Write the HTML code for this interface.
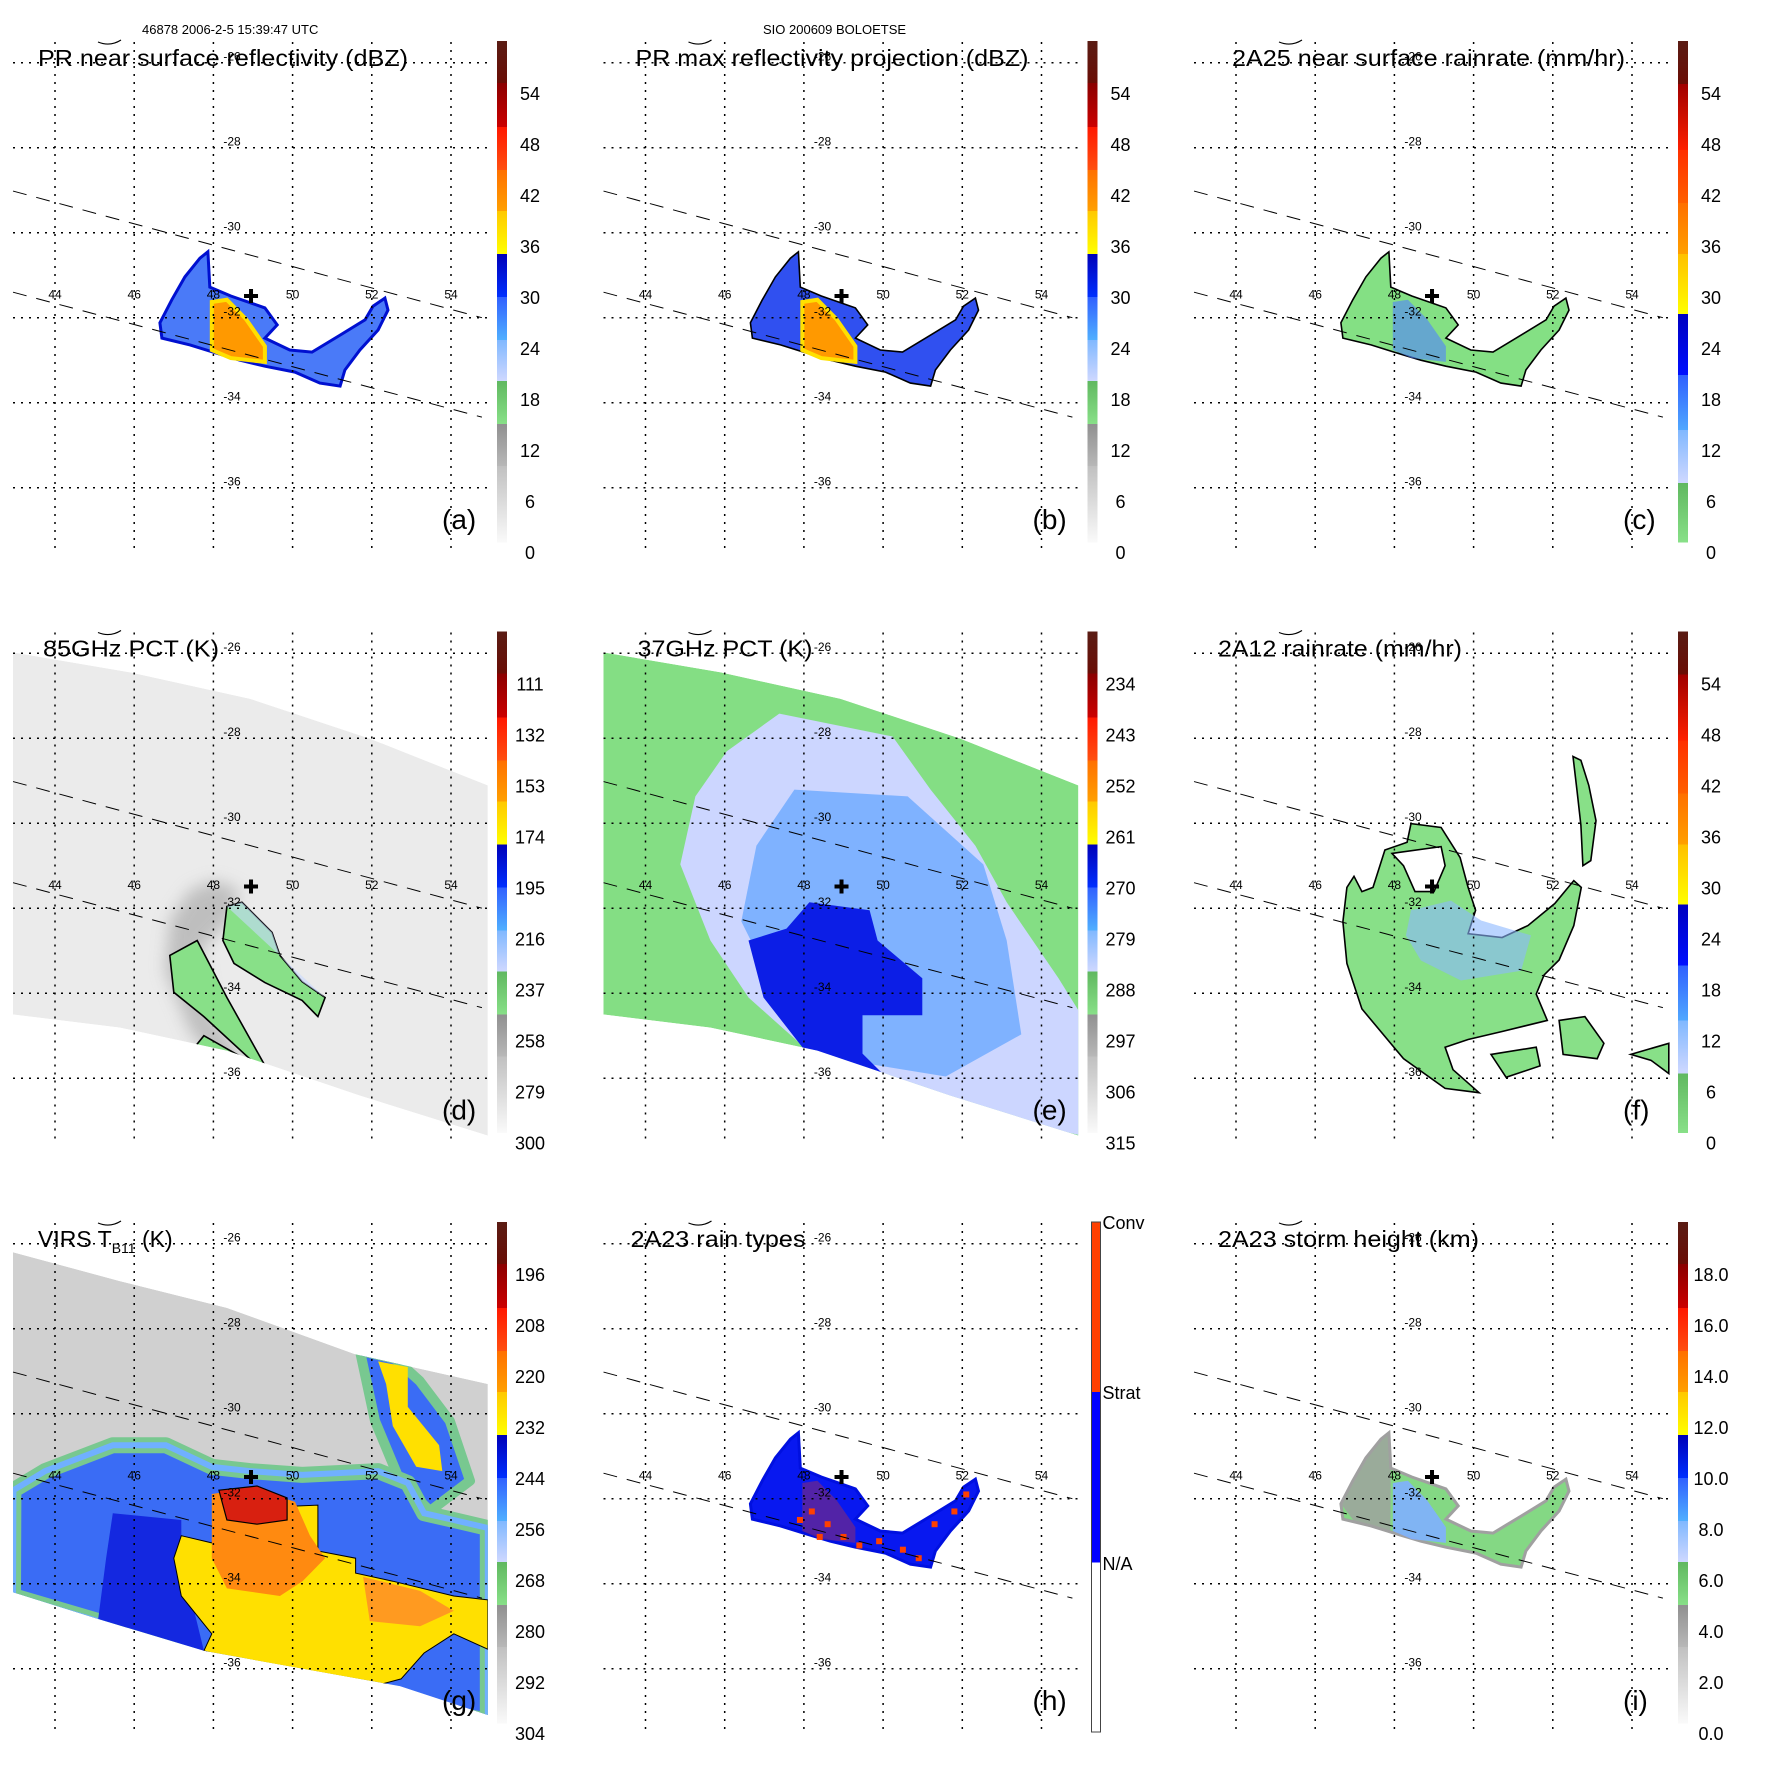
<!DOCTYPE html>
<html><head><meta charset="utf-8"><style>
html,body{margin:0;padding:0;background:#fff;}
svg{display:block;font-family:"Liberation Sans",sans-serif;}
</style></head><body>
<svg id="fig" width="1771" height="1771" viewBox="0 0 1771 1771" xmlns="http://www.w3.org/2000/svg">
<defs><filter id="blur6" x="-20%" y="-20%" width="140%" height="140%"><feGaussianBlur stdDeviation="8"/></filter></defs>
<text x="142" y="34" font-size="13">46878 2006-2-5 15:39:47 UTC</text>
<text x="763" y="34" font-size="13">SIO 200609 BOLOETSE</text>
</svg>
<script>
// ---- axis data ----
const lonTicks=[44,46,48,50,52,54];
const latTicks=[-26,-28,-30,-32,-34,-36];
const lonLabels=["44","46","48","50","52","54"];
const latLabels=["-26","-28","-30","-32","-34","-36"];
const cbA=["54","48","42","36","30","24","18","12","6","0"];
const cbD=["111","132","153","174","195","216","237","258","279","300"];
const cbE=["234","243","252","261","270","279","288","297","306","315"];
const cbG=["196","208","220","232","244","256","268","280","292","304"];
const cbI=["18.0","16.0","14.0","12.0","10.0","8.0","6.0","4.0","2.0","0.0"];
const cbH=["Conv","Strat","N/A"];
// ---- geographic series (lon,lat) ----
const centerPos=[48.95,-31.49];
const swathUpper=[[42.94,-29.02],[54.78,-32.0]];
const swathLower=[[42.94,-31.4],[54.78,-34.34]];
const tmiSwath=[[42.94,-25.98],[45.89,-26.45],[48.92,-27.07],[51.95,-28.01],[54.93,-29.11],[54.93,-37.35],[51.70,-36.41],[48.34,-35.35],[45.64,-34.81],[42.94,-34.50]];
const virsSwath=[[42.94,-26.20],[45.64,-26.88],[48.34,-27.51],[51.58,-28.60],[54.93,-29.30],[54.93,-37.09],[52.71,-36.41],[47.76,-35.58],[45.09,-34.83],[42.94,-34.20]];
const prRain=[[46.65,-32.12],[46.95,-31.58],[47.28,-31.04],[47.66,-30.60],[47.86,-30.45],[47.91,-31.28],[48.44,-31.49],[49.30,-31.77],[49.61,-32.17],[49.30,-32.48],[49.93,-32.76],[50.49,-32.81],[51.20,-32.41],[51.83,-32.05],[52.03,-31.73],[52.33,-31.54],[52.41,-31.82],[52.16,-32.29],[51.70,-32.76],[51.32,-33.23],[51.20,-33.61],[50.69,-33.54],[50.06,-33.28],[49.30,-33.14],[48.67,-33.00],[47.99,-32.81],[47.41,-32.64],[46.70,-32.48]];
const prCore=[[47.96,-31.63],[48.34,-31.58],[48.82,-32.03],[49.30,-32.67],[49.30,-33.04],[48.44,-32.95],[47.96,-32.76]];
const convDots=[[48.2,-32.3],[48.6,-32.6],[49.0,-32.9],[48.4,-32.9],[49.9,-33.0],[50.5,-33.2],[51.3,-32.6],[51.8,-32.3],[52.1,-31.9],[50.9,-33.4],[49.4,-33.1],[47.9,-32.5]];
const e37Lavender=[[47.38,-27.42],[50.24,-27.96],[51.20,-29.21],[52.33,-30.53],[53.12,-31.86],[54.43,-33.65],[55.01,-34.52],[55.01,-37.35],[50.24,-36.31],[48.67,-35.82],[46.60,-34.10],[45.64,-32.76],[44.88,-30.97],[45.26,-29.37],[46.05,-28.31]];
const e37Mid=[[47.76,-29.21],[50.62,-29.37],[52.53,-30.97],[53.12,-32.76],[53.49,-34.97],[51.58,-35.96],[49.28,-35.61],[47.38,-34.10],[46.42,-32.31],[46.80,-30.53]];
const e37Dark=[[48.14,-31.86],[49.66,-32.05],[49.86,-32.76],[50.99,-33.65],[50.99,-34.52],[49.48,-34.52],[49.48,-35.42],[50.44,-36.31],[49.66,-36.31],[48.32,-35.70],[46.98,-34.10],[46.60,-32.76],[47.56,-32.48]];
const d85Ring=[[47.41,-31.58],[48.04,-31.35],[48.67,-31.58],[48.42,-32.29],[47.66,-33.00],[47.91,-34.41],[48.92,-35.82],[48.42,-36.05],[47.41,-34.88],[46.78,-33.47],[46.90,-32.29]];
const d85Main=[[48.34,-31.96],[48.72,-31.86],[49.48,-32.57],[49.68,-33.11],[50.24,-33.73],[50.82,-34.10],[50.64,-34.55],[50.24,-34.17],[49.30,-33.75],[48.52,-33.30],[48.24,-32.76]];
const d85Strip1=[[46.90,-33.11],[47.59,-32.76],[48.34,-34.10],[49.30,-35.70],[49.10,-35.70],[47.76,-34.55],[47.00,-33.98]];
const d85Strip2=[[47.76,-35.00],[50.24,-36.31],[49.86,-36.41],[47.38,-35.44]];
const f12Main=[[46.80,-31.51],[46.98,-31.25],[47.18,-31.61],[47.46,-31.51],[47.76,-30.63],[48.32,-30.45],[48.42,-30.01],[49.18,-30.10],[49.66,-30.81],[49.86,-31.51],[50.05,-32.05],[49.86,-32.60],[50.72,-32.69],[51.37,-32.41],[52.05,-31.89],[52.53,-31.35],[52.72,-31.51],[52.53,-32.41],[52.16,-33.22],[51.78,-33.57],[51.58,-34.02],[51.86,-34.64],[50.72,-34.90],[49.86,-35.09],[49.28,-35.27],[49.48,-35.80],[50.14,-36.34],[49.28,-36.24],[48.23,-35.54],[47.18,-34.37],[46.80,-33.30],[46.70,-32.32]];
const f12Hole=[[47.94,-30.71],[49.18,-30.55],[49.28,-31.00],[49.00,-31.61],[48.52,-31.61],[48.23,-31.00]];
const f12Blob2=[[52.16,-34.64],[52.81,-34.55],[53.29,-35.18],[53.12,-35.54],[52.26,-35.44]];
const f12Blob3=[[50.44,-35.44],[51.58,-35.27],[51.68,-35.71],[50.82,-35.98]];
const f12Blob4=[[53.97,-35.44],[54.93,-35.18],[54.93,-35.89],[54.48,-35.58]];
const f12Arc=[[52.51,-28.43],[52.71,-28.52],[52.91,-29.11],[53.09,-29.94],[52.96,-30.88],[52.76,-31.00],[52.71,-30.05],[52.61,-29.23]];
const f12Blue=[[48.42,-32.05],[49.43,-31.82],[50.19,-32.29],[51.45,-32.64],[51.20,-33.47],[49.68,-33.70],[48.67,-33.23],[48.29,-32.64]];
const gCloud=[[42.95,-31.80],[43.75,-31.35],[45.46,-30.74],[46.80,-30.74],[47.96,-31.25],[48.92,-31.35],[50.24,-31.44],[52.16,-31.35],[52.91,-31.63],[53.32,-32.34],[54.07,-32.50],[54.93,-32.69],[54.93,-37.23],[47.76,-35.82],[45.09,-34.88],[42.94,-34.29]];
const gStreak=[[51.70,-28.52],[52.59,-28.71],[53.21,-29.23],[53.97,-30.17],[54.48,-31.58],[53.47,-32.29],[52.71,-31.58],[52.08,-30.17]];
const gStreakYellow=[[52.16,-28.77],[52.91,-28.90],[52.91,-29.84],[53.70,-30.74],[53.78,-31.35],[53.12,-31.25],[52.53,-30.29],[52.36,-29.30]];
const gYellow=[[47.19,-32.87],[47.96,-33.04],[48.34,-32.24],[50.64,-32.15],[50.64,-33.23],[51.59,-33.40],[51.59,-33.75],[52.53,-33.94],[54.07,-34.29],[54.93,-34.38],[54.93,-35.54],[54.07,-35.18],[53.32,-35.63],[52.74,-36.24],[51.97,-36.43],[50.25,-36.24],[47.76,-35.58],[47.96,-35.18],[47.19,-34.29],[47.00,-33.40]];
const gYellowLow=[[49.0,-35.7],[52.0,-36.3],[52.74,-36.6],[51.0,-36.6],[48.5,-35.9]];
const gOrange=[[47.96,-31.89],[48.92,-31.75],[50.06,-32.07],[50.44,-32.87],[50.82,-33.40],[50.25,-33.94],[49.68,-34.29],[48.34,-34.11],[47.96,-33.40]];
const gOrange2=[[51.78,-33.84],[53.22,-34.17],[54.07,-34.64],[53.22,-35.00],[51.95,-34.88]];
const gRed=[[48.14,-31.80],[49.10,-31.70],[49.86,-31.98],[49.86,-32.50],[49.10,-32.60],[48.34,-32.50]];
const gBlueBand=[[45.46,-32.34],[47.19,-32.50],[47.19,-33.40],[47.76,-35.58],[45.09,-34.83],[45.29,-33.40]];

const NS="http://www.w3.org/2000/svg";
const svg=document.getElementById('fig');
function mk(tag,attrs,parent){const e=document.createElementNS(NS,tag);for(const k in attrs)e.setAttribute(k,attrs[k]);(parent||svg).appendChild(e);return e;}

const bandsA=[[41,83,'#5a1c14','#6a0d05'],[83,127,'#8a0000','#cc0000'],[127,170,'#ff1800','#ff5010'],[170,211,'#ff7000','#ffa000'],[211,254,'#ffc800','#ffff00'],[254,297,'#0000b8','#0030ff'],[297,340,'#3060ff','#50b0ff'],[340,381,'#80b8ff','#d0d8ff'],[381,424,'#60b860','#88e088'],[424,466,'#909090','#b8b8b8'],[466,542,'#c0c0c0','#fafafa']];
const bandsC=[[41,84,'#5a1c14','#6a0d05'],[84,150,'#a00000','#ff2000'],[150,203,'#ff3000','#ff6000'],[203,254,'#ff7000','#ffa000'],[254,314,'#ffc000','#ffff00'],[314,375,'#0000c0','#0010ff'],[375,430,'#3060ff','#50a8ff'],[430,483,'#80b8ff','#d0d8ff'],[483,542,'#60b860','#88e088']];

const panels=[
 {id:'a',title:'PR near surface reflectivity (dBZ)',tx:38,tl:370,cb:cbA,bands:bandsA,type:'pr'},
 {id:'b',title:'PR max reflectivity projection (dBZ)',tx:45,tl:393,cb:cbA,bands:bandsA,type:'pr'},
 {id:'c',title:'2A25 near surface rainrate (mm/hr)',tx:51,tl:393,cb:cbA,bands:bandsC,type:'pr'},
 {id:'d',title:'85GHz PCT (K)',tx:43,tl:176,cb:cbD,bands:bandsA,type:'d'},
 {id:'e',title:'37GHz PCT (K)',tx:47,tl:175,cb:cbE,bands:bandsA,type:'e'},
 {id:'f',title:'2A12 rainrate (mm/hr)',tx:37,tl:244,cb:cbA,bands:bandsC,type:'f'},
 {id:'g',title:'VIRS T',tx:38,tl:0,cb:cbG,bands:bandsA,type:'g'},
 {id:'h',title:'2A23 rain types',tx:40,tl:175,cb:null,bands:null,type:'pr'},
 {id:'i',title:'2A23 storm height (km)',tx:37,tl:261,cb:cbI,bands:bandsA,type:'pr'}
];

panels.forEach((p,idx)=>{
 const ox=(idx%3)*590.5, oy=Math.floor(idx/3)*590.5;
 const X=lon=>ox+55+(lon-44)*39.6;
 const Y=lat=>oy+62.7+(-26-lat)*42.5;
 const pts=arr=>arr.map(q=>X(q[0]).toFixed(1)+','+Y(q[1]).toFixed(1)).join(' ');
 const g=mk('g',{});
 
 
 function poly(arr,attrs,name,parent){const e=mk('polygon',Object.assign({points:pts(arr)},attrs),parent||g);return e;}
 if(p.type==='d'||p.type==='e'||p.type==='g'){
  const cp=mk('clipPath',{id:'clip'+p.id});
  mk('polygon',{points:pts(p.type==='g'?virsSwath:tmiSwath)},cp);
 }
 const data=mk('g',{},g);
 
 
 if(p.type==='d'){
  data.setAttribute('clip-path','url(#clipd)');
  poly(tmiSwath,{fill:'#ebebeb'},'tmi-swath-85',data);
  poly(d85Ring,{fill:'#9a9a9a',opacity:'0.55',filter:'url(#blur6)'},'cold-ring',data);
  [d85Main,d85Strip1,d85Strip2].forEach((a,i)=>poly(a,{fill:'#88e088',stroke:'#000','stroke-width':'1.6'},'pct-contour-'+i,data));
  poly(d85Main.slice(0,6),{fill:'#c8d8ff',opacity:'0.6'},'pct-core',data);
 } else if(p.type==='e'){
  data.setAttribute('clip-path','url(#clipe)');
  poly(tmiSwath,{fill:'#84de84'},'tmi-swath-37',data);
  poly(e37Lavender,{fill:'#ccd6ff'},'pct-lavender',data);
  poly(e37Mid,{fill:'#7fb2ff'},'pct-mid',data);
  poly(e37Dark,{fill:'#0c1ee6'},'pct-dark',data);
 } else if(p.type==='f'){
  poly(f12Main,{fill:'#88e088',stroke:'#000','stroke-width':'1.6'},'rain-main',data);
  poly(f12Hole,{fill:'#fff',stroke:'#000','stroke-width':'1.6'},'rain-hole',data);
  [f12Blob2,f12Blob3,f12Blob4,f12Arc].forEach((a,i)=>poly(a,{fill:'#88e088',stroke:'#000','stroke-width':'1.6'},'rain-blob-'+i,data));
  poly(f12Blue,{fill:'#8cb8ff',opacity:'0.6'},'rain-moderate',data);
 } else if(p.type==='g'){
  data.setAttribute('clip-path','url(#clipg)');
  poly(virsSwath,{fill:'#d0d0d0'},'virs-swath',data);
  poly(gStreak,{fill:'#3a6cf5',stroke:'#78c890','stroke-width':'10','stroke-linejoin':'round'},'cloud-streak',data);
  poly(gStreakYellow,{fill:'#ffe000'},'cloud-streak-core',data);
  poly(gCloud,{fill:'#3a6cf5',stroke:'#78c890','stroke-width':'16','stroke-linejoin':'round'},'cloud-shield',data);
  poly(gCloud,{fill:'none',stroke:'#70b0ff','stroke-width':'6'},'cloud-edge',data);
  poly(gBlueBand,{fill:'#1428e0'},'cloud-band',data);
  poly(gYellow,{fill:'#ffe000',stroke:'#000','stroke-width':'1'},'cloud-cold',data);
  poly(gYellowLow,{fill:'#ffe000'},'cloud-cold-low',data);
  poly(gOrange,{fill:'#ff8a10'},'cloud-colder',data);
  poly(gOrange2,{fill:'#ff9a20'},'cloud-colder-2',data);
  poly(gRed,{fill:'#d82010',stroke:'#000','stroke-width':'1.2'},'cloud-coldest',data);
 } else {
  const fills={a:'#4a7af8',b:'#3050f0',c:'#84e084',h:'#0818f0',i:'#84d884'};
  const strokes={a:'#0010d0',b:'#000',c:'#000',h:'#0010e0',i:'#a0a0a0'};
  poly(prRain,{fill:fills[p.id],stroke:strokes[p.id],'stroke-width':p.id==='b'||p.id==='c'?'1.6':'3'},'pr-rain-'+p.id,data);
  if(p.id==='i') poly(prRain.slice(0,6).concat([[47.9,-32.8],[47.0,-32.55]]),{fill:'#a0a0a0',opacity:'0.8'},'pr-shallow-'+p.id,data);
  const coreFill={a:'#ff9900',b:'#ff9900',c:'#5080ff',h:'#ff4000',i:'#80b0ff'};
  const coreOp={a:'1',b:'1',c:'0.6',h:'0.3',i:'0.9'};
  poly(prCore,{fill:coreFill[p.id],stroke:p.id==='a'||p.id==='b'?'#ffe000':'none','stroke-width':'4',opacity:coreOp[p.id]},'pr-core-'+p.id,data);
  if(p.id==='h') convDots.forEach(q=>{const r=mk('rect',{x:X(q[0])-3,y:Y(q[1])-3,width:6,height:6,fill:'#ff4000'},data);});
 }
 const grid=mk('g',{stroke:'#000','stroke-width':'1.5','stroke-dasharray':'2 6',fill:'none'},g);
 
 
 latTicks.forEach(lat=>{const l=mk('line',{x1:ox+13,x2:ox+490,y1:Y(lat),y2:Y(lat)},grid);});
 lonTicks.forEach(lon=>{const l=mk('line',{x1:X(lon),x2:X(lon),y1:oy+42,y2:oy+552},grid);});
 [swathUpper,swathLower].forEach(s=>{const l=mk('line',{x1:X(s[0][0]),y1:Y(s[0][1]),x2:X(s[1][0]),y2:Y(s[1][1]),stroke:'#000','stroke-width':'1','stroke-dasharray':'14 10'},g);});
 latTicks.forEach((lat,i)=>{const t=mk('text',{x:X(48)+10,y:Y(lat)-2,'font-size':'12'},g);t.textContent=latLabels[i];});
 lonTicks.forEach((lon,i)=>{const t=mk('text',{x:X(lon),y:Y(-31.45)+4,'font-size':'12','text-anchor':'middle'},g);t.textContent=lonLabels[i];});
 const cx=X(centerPos[0]),cy=Y(centerPos[1]);
 const cr=mk('path',{d:`M${cx-7},${cy} H${cx+7} M${cx},${cy-7} V${cy+7}`,stroke:'#000','stroke-width':'4'},g);
 
 
 const tt=mk('text',{x:ox+p.tx,y:oy+66,'font-size':'23'},g);
 
 
 if(p.type==='g'){
  tt.textContent='VIRS T';
  const s=mk('tspan',{'font-size':'14',dy:'6'},tt);s.textContent='B11';
  const s2=mk('tspan',{dy:'-6'},tt);s2.textContent=' (K)';
 } else {tt.textContent=p.title;tt.setAttribute('textLength',p.tl);tt.setAttribute('lengthAdjust','spacingAndGlyphs');}
 const tl=mk('path',{d:`M${ox+98},${oy+42} Q${ox+110},${oy+47} ${ox+121},${oy+40}`,stroke:'#000','stroke-width':'1.2',fill:'none'},g);
 
 
 const pl=mk('text',{x:ox+442,y:oy+529,'font-size':'28'},g);
 pl.textContent='('+p.id+')';
 
 
 const cb=mk('g',{},g);
 
 
 if(p.bands){
  p.bands.forEach((b,i)=>{
   const gid='grad'+p.id+i;
   const lg=mk('linearGradient',{id:gid,x1:'0',y1:'0',x2:'0',y2:'1'},cb);
   mk('stop',{offset:'0','stop-color':b[2]},lg);mk('stop',{offset:'1','stop-color':b[3]},lg);
   const r=mk('rect',{x:ox+497,y:oy+b[0],width:10,height:b[1]-b[0]+0.5,fill:`url(#${gid})`},cb);
   
   
  });
  p.cb.forEach((lab,i)=>{const t=mk('text',{x:ox+530,y:oy+94+i*51+6,'font-size':'18','text-anchor':'middle'},cb);t.textContent=lab;});
 } else {
  const segs=[[41,211,'#ff4000'],[211,381.5,'#0000ff'],[381.5,551,'#ffffff']];
  segs.forEach(s=>{const r=mk('rect',{x:ox+501,y:oy+s[0],width:9,height:s[1]-s[0],fill:s[2]},cb);});
  const bd=mk('rect',{x:ox+501,y:oy+41,width:9,height:510,fill:'none',stroke:'#444','stroke-width':'1'},cb);
  
  [48,218,389].forEach((yy,i)=>{const t=mk('text',{x:ox+512,y:oy+yy,'font-size':'18'},cb);t.textContent=cbH[i];});
 }
});
</script>
</body></html>
